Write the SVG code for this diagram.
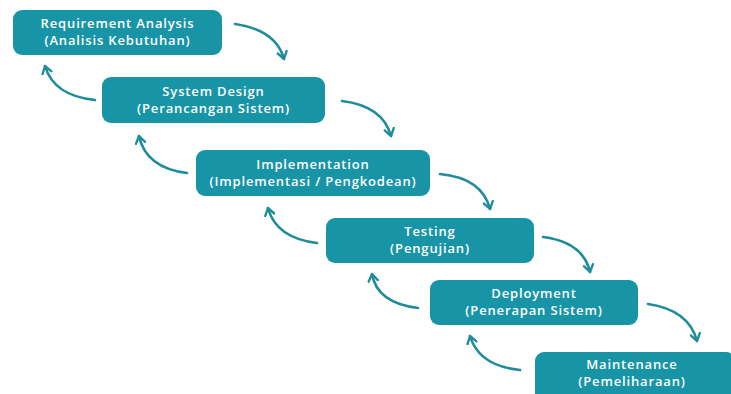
<svg xmlns="http://www.w3.org/2000/svg" width="731" height="394" viewBox="0 0 731 394">
  <style>
    .box { fill: #1894a7; }
    .lbl { fill: #ffffff; font-family: "Open Sans", "Noto Sans", sans-serif; font-weight: 600; font-size: 13px; letter-spacing: 0.85px; text-anchor: middle; }
    .arc { fill: none; stroke: #1f8c9c; stroke-width: 2.6; stroke-linecap: round; marker-end: url(#head); }
  </style>
  <defs>
    <marker id="head" viewBox="0 0 10 10" refX="7" refY="5" markerWidth="4.5" markerHeight="4.5" orient="auto" markerUnits="strokeWidth">
      <path d="M1 1 L7 5 L1 9" fill="none" stroke="#1f8c9c" stroke-width="2" stroke-linecap="round" stroke-linejoin="round"/>
    </marker>
  </defs>
  <rect width="731" height="394" fill="#ffffff"/>

  <g id="connectors">
    <path class="arc" d="M235 24 Q276 30 284 59"/>
    <path class="arc" d="M95 100 Q54 96 45 66"/>
    <path class="arc" d="M342 101 Q383 106 391 136"/>
    <path class="arc" d="M187 173 Q146 168 139 136"/>
    <path class="arc" d="M440 174 Q482 178 490 209"/>
    <path class="arc" d="M317 243 Q276 238 268 208"/>
    <path class="arc" d="M543 237 Q583 242 590 272"/>
    <path class="arc" d="M418 308 Q377 303 372 274"/>
    <path class="arc" d="M648 304 Q689 310 697 341"/>
    <path class="arc" d="M520 370 Q479 366 470 336"/>
  </g>

  <g id="requirement">
    <rect class="box" x="13" y="10" width="209" height="45" rx="9"/>
    <text class="lbl" x="117.5" y="28">Requirement Analysis</text>
    <text class="lbl" x="117.5" y="45">(Analisis Kebutuhan)</text>
  </g>
  <g id="design">
    <rect class="box" x="102" y="77" width="223" height="46" rx="9"/>
    <text class="lbl" x="213.5" y="96">System Design</text>
    <text class="lbl" x="213.5" y="113">(Perancangan Sistem)</text>
  </g>
  <g id="implementation">
    <rect class="box" x="196" y="150" width="234" height="46" rx="9"/>
    <text class="lbl" x="313" y="169">Implementation</text>
    <text class="lbl" x="313" y="186">(Implementasi / Pengkodean)</text>
  </g>
  <g id="testing">
    <rect class="box" x="326" y="218" width="208" height="45" rx="9"/>
    <text class="lbl" x="430" y="236">Testing</text>
    <text class="lbl" x="430" y="253">(Pengujian)</text>
  </g>
  <g id="deployment">
    <rect class="box" x="430" y="280" width="208" height="45" rx="9"/>
    <text class="lbl" x="534" y="298">Deployment</text>
    <text class="lbl" x="534" y="315">(Penerapan Sistem)</text>
  </g>
  <g id="maintenance">
    <rect class="box" x="535" y="352" width="200" height="50" rx="9"/>
    <text class="lbl" x="632" y="369">Maintenance</text>
    <text class="lbl" x="632" y="386">(Pemeliharaan)</text>
  </g>
</svg>
